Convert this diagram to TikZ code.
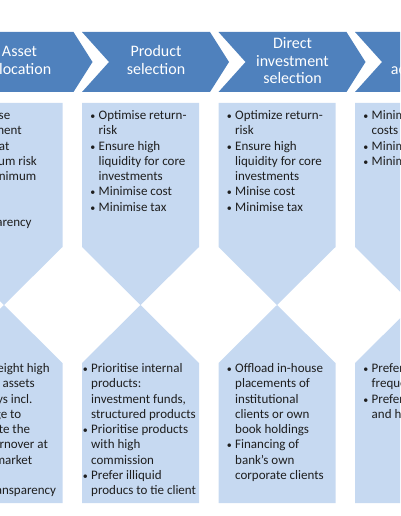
\documentclass[tikz,border=0pt]{standalone}
\usepackage{fontspec}
\setmainfont{Carlito}
\definecolor{chev}{HTML}{4F81BD}
\definecolor{lite}{HTML}{C6D9F1}
\definecolor{txt}{HTML}{1E1E1E}
\newcommand\bulbox{\makebox[8.6pt][l]{\kern0.3pt{\fontsize{10}{10}\selectfont •}}}
\tikzset{
  chevshape/.style={fill=chev, draw=none},
  bodyshape/.style={fill=lite, draw=none},
  head/.style={text=white, font=\fontsize{16}{17.8}\selectfont, inner sep=0pt, anchor=base},
  bodytext/.style={text=txt, font=\fontsize{13}{15.25}\selectfont, inner sep=0pt, anchor=base west},
}
\begin{document}
\begin{tikzpicture}[x=1pt,y=-1pt]
\useasboundingbox (0,0) rectangle (400,516);
\clip (0,0) rectangle (400,516);
\foreach \xo in {-54.5,82,218.5,355}{
  \path[chevshape] (\xo,32) -- ++(128,0) -- ++(19,30) -- ++(-19,30) -- ++(-128,0) -- ++(27,-30) -- cycle;
  \path[bodyshape] (\xo,103) -- ++(117,0) -- ++(0,144) -- ++(-58.5,58) -- ++(-58.5,-58) -- cycle;
  \path[bodyshape] (\xo+58.5,305) -- ++(58.5,58) -- ++(0,140) -- ++(-117,0) -- ++(0,-140) -- cycle;
}
% headers
\node[head] (h1) at (19.5,57) {\begin{tabular}[t]{@{}c@{}}Asset\\allocation\end{tabular}};
\node[head] (h2) at (156,57) {\begin{tabular}[t]{@{}c@{}}Product\\selection\end{tabular}};
\node[head] (h3) at (292.5,48.3) {\begin{tabular}[t]{@{}c@{}}Direct\\investment\\selection\end{tabular}};
\node[head] (h4) at (428,57) {\begin{tabular}[t]{@{}c@{}}Portfolio\\adjustment\end{tabular}};
% column 1
\node[bodytext] (c1t) at (-46.1,119.5) {\begin{tabular}[t]{@{}l@{}l@{}}
\bulbox & Optimise\\ & investment\\ & return at\\ & maximum risk\\ & and minimum\\ & cost\\
\bulbox & Ensure\\ & transparency\end{tabular}};
\node[bodytext] (c1b) at (-46.1,372.7) {\begin{tabular}[t]{@{}l@{}l@{}}
\bulbox & Overweight high\\ & margin assets\\
\bulbox & Overlays incl.\\ & leverage to\\ & generate the\\ & high turnover at\\ & every market\\ & move\\
\bulbox & Low transparency\end{tabular}};
% column 2
\node[bodytext] (c2t) at (89.9,119.5) {\begin{tabular}[t]{@{}l@{}l@{}}
\bulbox & Optimise return-\\ & risk\\
\bulbox & Ensure high\\ & liquidity for core\\ & investments\\
\bulbox & Minimise cost\\
\bulbox & Minimise tax\end{tabular}};
\node[bodytext] (c2b) at (82.4,372.7) {\begin{tabular}[t]{@{}l@{}l@{}}
\bulbox & Prioritise internal\\ & products:\\ & investment funds,\\ & structured products\\
\bulbox & Prioritise products\\ & with high\\ & commission\\
\bulbox & Prefer illiquid\\ & producs to tie client\end{tabular}};
% column 3
\node[bodytext] (c3t) at (226.4,119.5) {\begin{tabular}[t]{@{}l@{}l@{}}
\bulbox & Optimize return-\\ & risk\\
\bulbox & Ensure high\\ & liquidity for core\\ & investments\\
\bulbox & Minise cost\\
\bulbox & Minimise tax\end{tabular}};
\node[bodytext] (c3b) at (226.4,372.7) {\begin{tabular}[t]{@{}l@{}l@{}}
\bulbox & Offload in-house\\ & placements of\\ & institutional\\ & clients or own\\ & book holdings\\
\bulbox & Financing of\\ & bank’s own\\ & corporate clients\end{tabular}};
% column 4
\node[bodytext] (c4t) at (362.9,119.5) {\begin{tabular}[t]{@{}l@{}l@{}}
\bulbox & Minimise trading\\ & costs\\
\bulbox & Minimise tax\\
\bulbox & Minimise risk\end{tabular}};
\node[bodytext] (c4b) at (362.9,372.7) {\begin{tabular}[t]{@{}l@{}l@{}}
\bulbox & Prefer high\\ & frequency trading\\
\bulbox & Prefer complex\\ & and high fees\end{tabular}};
\end{tikzpicture}
\end{document}
